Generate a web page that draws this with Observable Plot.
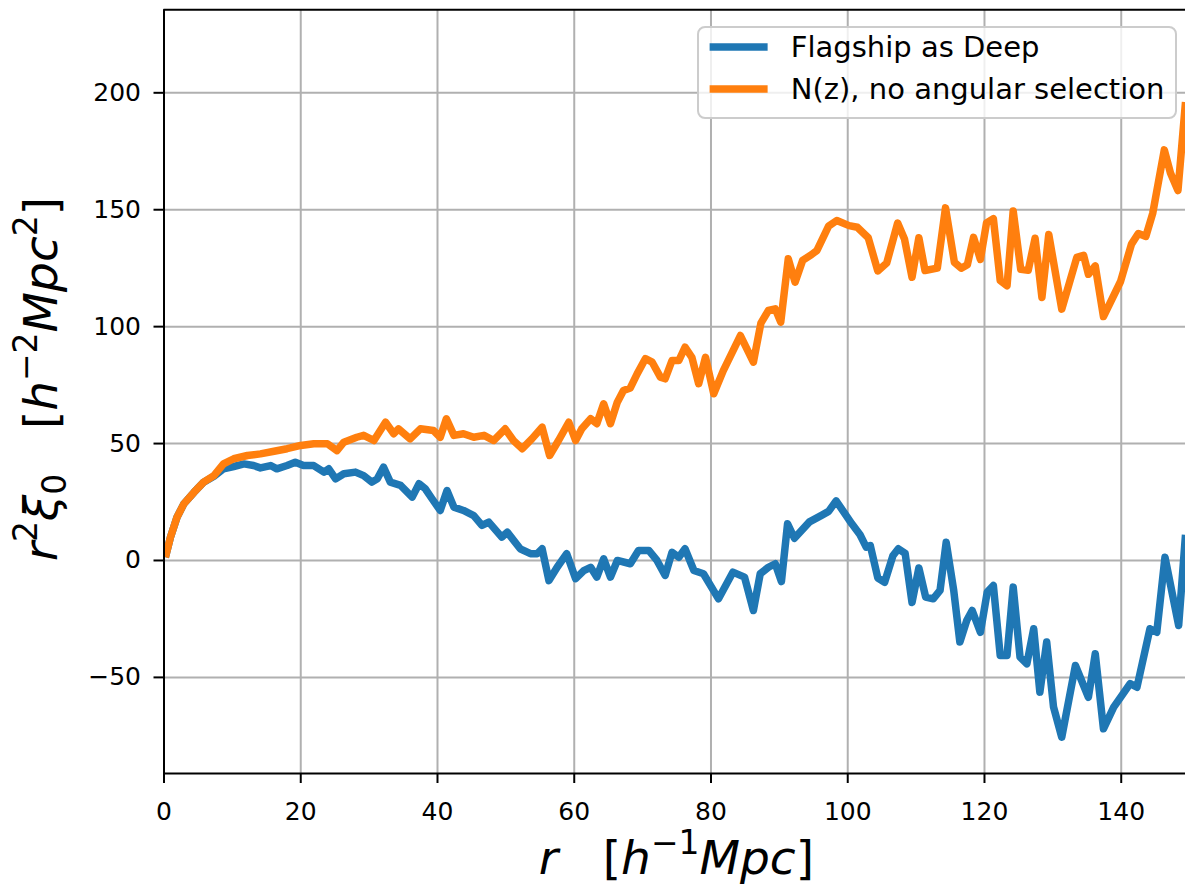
<!DOCTYPE html>
<html><head><meta charset="utf-8">
<script src="https://cdn.jsdelivr.net/npm/d3@7"></script>
<script src="https://cdn.jsdelivr.net/npm/@observablehq/plot@0.6"></script>
<style>
html,body{margin:0;padding:0;background:#fff;}
#chart{position:relative;width:1185px;height:884px;overflow:hidden;}
</style></head><body><div id="chart"></div>
<script>
// ---- data ----
const seriesNames = ["Flagship as Deep", "N(z), no angular selection"];
const seriesColors = ["#1f77b4", "#ff7f0e"];

const rDeep = [0.2,0.95,1.9,2.9,4.4,5.8,7.3,8.7,10.2,11.7,13.1,14.1,15.6,16.5,18,19.2,20.4,21.9,23.4,24.1,25.1,26.3,28,29.2,30.4,31.2,32.1,33.1,34.6,36.3,37.3,38.2,39.2,40.4,41.4,42.4,43.8,45.3,46.5,47.5,49.4,50.2,52.1,53.6,54.6,55.3,56.3,57.5,58.9,60.2,61.4,62.4,63.3,64.3,65.3,66.3,68.2,69.4,70.9,72.1,73.3,74.3,75.3,76.2,77.5,78.9,81.1,83.2,84.9,86.2,87.2,88.4,89.4,90.3,91.2,92.2,94.4,96.1,97.2,98.3,100.6,101.8,102.7,103.3,104.4,105.4,106.6,107.4,108.4,109.4,110.4,111.4,112.5,113.5,114.4,115.5,116.4,117.4,118.2,119.4,120.4,121.3,122.3,123.3,124.2,125.2,126.2,127.2,128.1,129.1,130.1,131.3,133.3,135.2,136.2,137.4,138.9,139.9,141.3,142.3,144.2,145.2,146.4,148.4,149.4];
const xiDeep = [1.4,10,18.5,24.2,29.2,33.5,36,39.2,40.2,41.3,40.6,39.6,40.6,39.2,40.6,42,40.6,40.6,37.8,39.2,34.9,37.1,37.8,36.3,33.5,34.9,39.9,33.5,32.1,27.1,32.8,30.7,26.4,21.4,29.9,22.8,21.4,19.2,15,16.4,10,12.1,5,2.9,2.9,5,-8.6,-2.9,2.9,-7.8,-4.3,-2.9,-7.1,0.7,-7.1,0,-1.4,4.3,4.3,0,-6.4,3.5,1.4,5,-4.3,-5.7,-16.4,-5,-7.1,-21.4,-5.7,-2.9,-1.4,-9,15.7,9.5,16.5,19.2,21,25.5,15.7,11,5.7,6.4,-7.5,-9.3,2,5,3,-18,-3.2,-15.7,-16.4,-12.8,7.8,-12.8,-34.9,-25.7,-21.4,-30.7,-13.5,-10.7,-40.6,-40.6,-11.4,-41.3,-44.2,-29.2,-56.3,-34.9,-62.7,-75.6,-44.9,-58.5,-39.9,-72,-62.7,-58.5,-52.7,-54.2,-29.2,-30.7,1.4,-27.8,11];

const rNz = [0.2,0.95,1.9,2.9,4.4,5.8,7.3,8.7,10.2,12.2,14.1,16.1,18,20,21.9,23.9,25.3,26.3,28.2,29.2,30.7,32.4,33.6,34.3,36,37.5,39.4,40.4,41.3,42.4,43.8,45.3,46.8,48.2,49.9,51.1,52.4,53.8,55.3,56.4,57.7,59.2,60.2,61.1,62.4,63.3,64.3,65.3,66.3,67.2,68.2,69.2,70.4,71.4,72.6,73.3,74.3,75.3,76.2,77.2,78.2,79.2,80.4,81.8,84.3,86.2,87.3,88.4,89.4,90.2,91.3,92.3,93.4,94.7,95.5,97.2,98.4,100.2,101.4,103,104.4,105.7,107.3,108.3,109.4,110.4,111.3,113.1,114.3,115.6,116.6,117.5,118.4,119.4,120.3,121.3,122.3,123.3,124.2,125.3,126.4,127.4,128.4,129.4,131.3,133.5,134.5,135.2,136.2,137.4,139.9,141.5,142.5,143.6,144.6,146.3,147.2,148.3,149.4];
const xiNz = [1.4,10,18.5,24.2,29.2,33.5,36.3,41.3,43.5,44.9,45.6,46.7,47.8,49.2,49.9,49.9,47,50.6,52.7,53.5,51.3,59.1,54.2,56.3,52,56.3,55.6,52.7,60.6,53.5,54.2,52.7,53.5,51.3,56.3,51.3,47.8,52,57,44.9,51.3,59.1,51.3,56.3,60.6,58.5,67,58.5,67.7,72.7,73.8,79.8,86.3,84.8,78.4,77.7,85.5,85.5,91.2,86.9,75.6,86.9,71.3,81.2,96.2,84.8,101.5,106.9,107.6,101.9,129,119,128.3,130.8,132.6,143,145.4,143.2,142.5,138,123.8,127.2,144.3,137.5,121.1,138,124,125,150.8,127.5,125,126.5,138.2,128.8,144.4,146.2,119.7,117.5,149.5,124.5,124.1,137.8,112.5,139.4,107.5,129.6,130.5,122.4,126,104.3,119.3,135.3,139.8,138.6,148.4,175.6,165.7,158.2,196];

const xTicks = [0,20,40,60,80,100,120,140];
const yTicks = [-50,0,50,100,150,200];
const xDomain = [0, 149.4];
const yDomain = [-91.1, 235.5];

// ---- build table ----
const rows = [
  ...rDeep.map((r, i) => ({r, v: xiDeep[i], s: seriesNames[0]})),
  ...rNz.map((r, i) => ({r, v: xiNz[i], s: seriesNames[1]}))
];

const FONT = "DejaVu Sans";
const minus = d => d < 0 ? "\u2212" + Math.abs(d) : String(d);
const LW = 7.5;

const plot = Plot.plot({
  width: 1185,
  height: 884,
  marginLeft: 163.5,
  marginRight: 0,
  marginTop: 9.3,
  marginBottom: 111,
  style: {fontFamily: FONT, fontSize: "25px", color: "#000", background: "#fff", overflow: "visible"},
  x: {domain: xDomain},
  y: {domain: yDomain},
  color: {domain: seriesNames, range: seriesColors},
  marks: [
    Plot.gridX(xTicks, {stroke: "#b0b0b0", strokeOpacity: 1, strokeWidth: 2}),
    Plot.gridY(yTicks, {stroke: "#b0b0b0", strokeOpacity: 1, strokeWidth: 2}),
    Plot.line(rows, {x: "r", y: "v", z: "s", stroke: "s", strokeWidth: LW, strokeLinejoin: "round", strokeLinecap: "butt", clip: true}),
    Plot.ruleX([xDomain[0]], {stroke: "#000", strokeWidth: 2}),
    Plot.ruleY(yDomain, {stroke: "#000", strokeWidth: 2}),
    Plot.axisX(xTicks, {tickSize: 10, tickPadding: 19, strokeWidth: 2, fontSize: 25, label: null, tickFormat: minus}),
    Plot.axisY(yTicks, {tickSize: 10, tickPadding: 13, strokeWidth: 2, fontSize: 25, label: null, tickFormat: minus})
  ]
});
document.getElementById("chart").appendChild(plot);

const svg = d3.select(plot);
const xs = plot.scale("x"), ys = plot.scale("y");

// ---- legend ----
const LF = 29;
const leg = svg.append("g").attr("font-family", FONT).attr("font-size", LF).attr("text-anchor", "start");
const legRight = 1176, legTop = 27, rowY = [47, 89];
const texts = seriesNames.map((n, i) => leg.append("text").attr("y", rowY[i]).attr("dy", "0.35em").attr("fill", "#000").attr("text-anchor", "start").text(n));
const maxW = d3.max(texts, t => t.node().getComputedTextLength());
const textX = legRight - 0.4 * LF - maxW;
texts.forEach(t => t.attr("x", textX));
const hx1 = textX - 0.8 * LF, hx0 = hx1 - 2 * LF;
const boxX = hx0 - 0.4 * LF;
leg.insert("rect", ":first-child")
  .attr("x", boxX).attr("y", legTop).attr("width", legRight - boxX).attr("height", 91)
  .attr("rx", 7).attr("fill", "#fff").attr("fill-opacity", 0.8).attr("stroke", "#cccccc").attr("stroke-width", 2);
seriesNames.forEach((n, i) => leg.append("line")
  .attr("x1", hx0).attr("x2", hx1).attr("y1", rowY[i]).attr("y2", rowY[i])
  .attr("stroke", seriesColors[i]).attr("stroke-width", LW));

// ---- axis labels (mathtext-like) ----
function mathText(g, parts, size) {
  const t = g.append("text").attr("font-family", FONT).attr("font-size", size).attr("fill", "#000").style("white-space", "pre");
  let shift = 0;
  parts.forEach(p => {
    const s = t.append("tspan").text(p.t);
    if (p.i) s.attr("font-style", "italic");
    const target = p.sup ? -0.42 * size : p.sub ? 0.2 * size : 0;
    if (target !== shift) { s.attr("dy", target - shift); shift = target; }
    if (p.sup || p.sub) s.attr("font-size", size * 0.7);
  });
  return t;
}
const XL = 47;
const xCenter = (xs.range[0] + xs.apply(150)) / 2;
const gx = svg.append("g").attr("transform", `translate(${xCenter},${874})`);
mathText(gx, [
  {t: "r", i: true}, {t: "   ["}, {t: "h", i: true}, {t: "\u22121", sup: true}, {t: "Mpc", i: true}, {t: "]"}
], XL).attr("text-anchor", "middle");

const yCenter = (ys.range[0] + ys.range[1]) / 2 - 12;
const gy = svg.append("g").attr("transform", `translate(${57},${yCenter}) rotate(-90)`);
mathText(gy, [
  {t: "r", i: true}, {t: "2", sup: true}, {t: "\u03be", i: true}, {t: "0", sub: true}, {t: "   ["}, {t: "h", i: true}, {t: "\u22122", sup: true}, {t: "Mpc", i: true}, {t: "2", sup: true}, {t: "]"}
], XL).attr("text-anchor", "middle");
</script>
</body></html>
